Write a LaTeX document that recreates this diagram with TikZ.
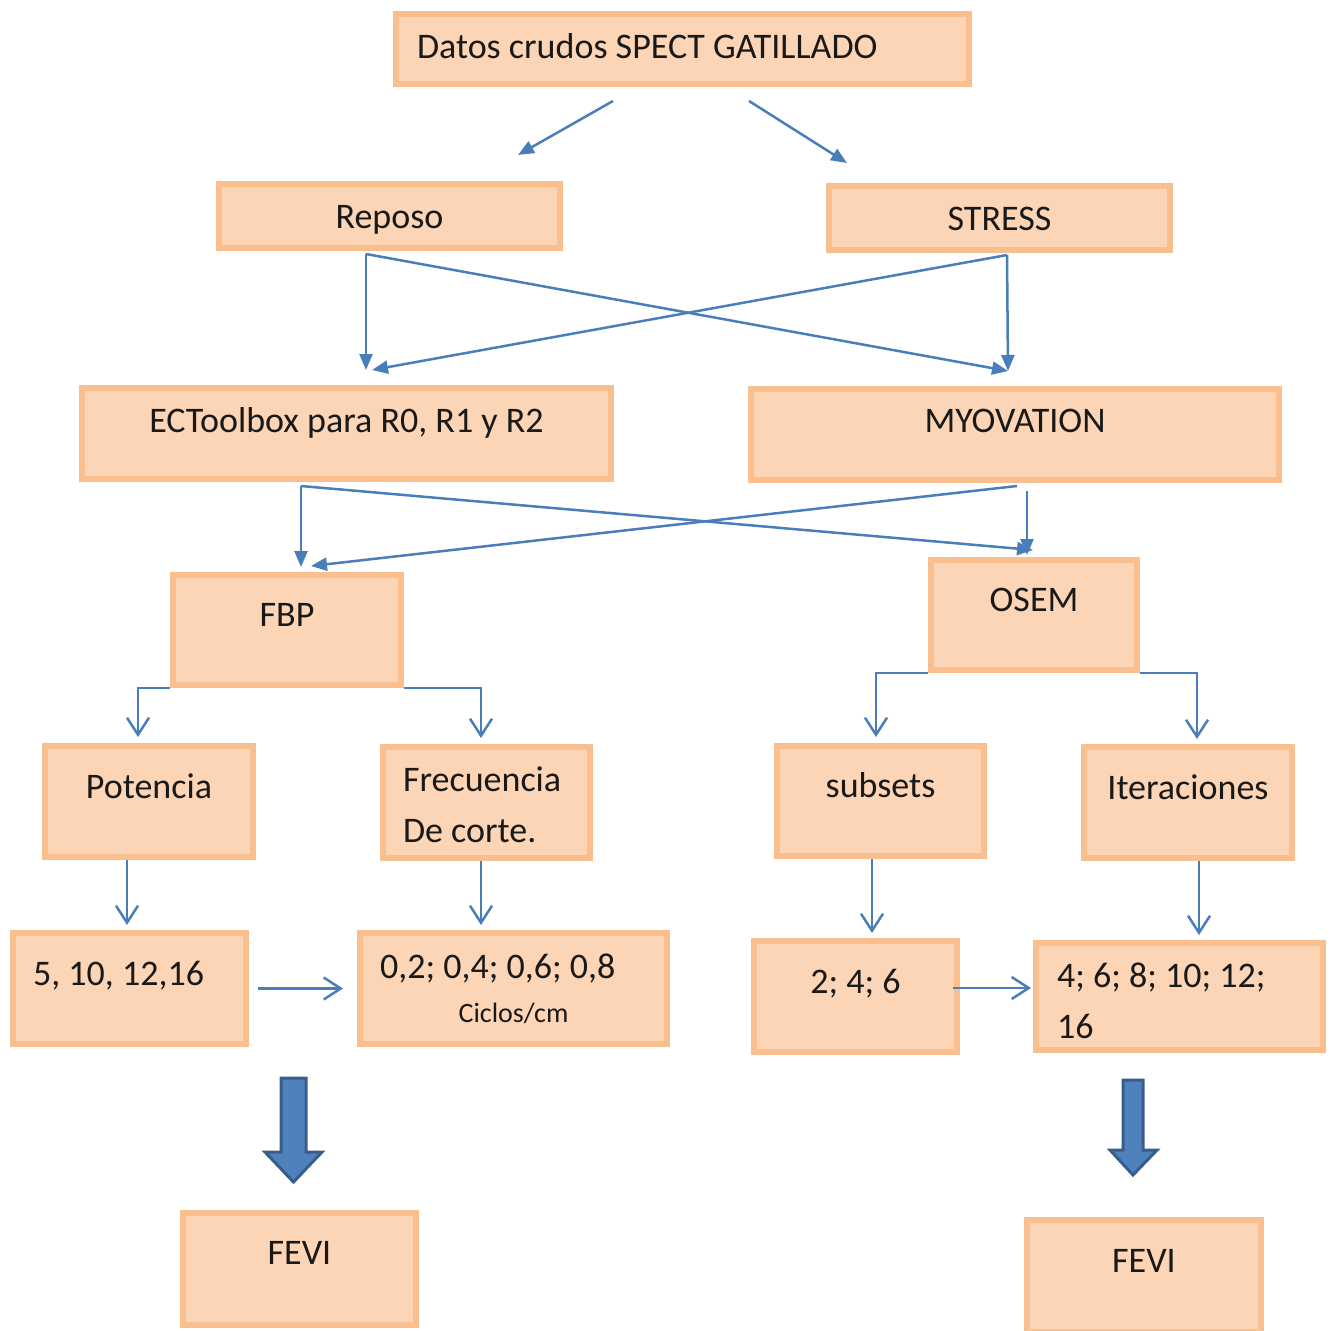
\documentclass[tikz,border=0pt]{standalone}
\usepackage{fontspec}
\setmainfont{Carlito}
\usepackage{tikz}
\usetikzlibrary{arrows.meta}
\definecolor{boxfill}{RGB}{251,213,181}
\definecolor{boxline}{RGB}{250,191,143}
\definecolor{linkblue}{RGB}{74,126,187}
\definecolor{fatfill}{RGB}{79,129,189}
\definecolor{fatline}{RGB}{56,93,138}

\begin{document}
\begin{tikzpicture}[x=1pt,y=-1pt,
    box/.style={draw=boxline, fill=boxfill, line width=6pt, inner sep=0pt, align=flush center, text=black!90, font=\fontsize{36}{51}\selectfont},
    leftbox/.style={box, align=flush left, inner xsep=20pt},
    link/.style={draw=linkblue, line width=2.5pt, -{Triangle[length=16pt,width=13pt]}},
    openlink/.style={draw=linkblue, line width=2.5pt, -{Straight Barb[length=17pt,width=22pt]}},
    fat/.style={draw=fatline, fill=fatfill, line width=3pt, line join=miter}]
    \useasboundingbox (0,0) rectangle (1335,1330);

    % boxes
    \node [leftbox, text width=531pt, inner xsep=21pt, text height=44.5pt, text depth=25.5pt] (datos) at (682.5,49) {Datos crudos SPECT GATILLADO};
    \node [box, text width=341pt, text height=44.5pt, text depth=19.5pt] (reposo) at (389.5,216) {Reposo};
    \node [box, text width=341pt, text height=44.5pt, text depth=19.5pt] (stress) at (999.5,218) {STRESS};
    \node [box, text width=529pt, text height=44.5pt, text depth=46.5pt] (ectool) at (346.5,433.5) {ECToolbox para R0, R1 y R2};
    \node [box, text width=528pt, text height=43.5pt, text depth=47.5pt] (myov) at (1015,434.5) {MYOVATION};
    \node [box, text width=228pt, text height=51.5pt, text depth=58.5pt] (fbp) at (287,630) {FBP};
    \node [box, text width=206pt, text height=51.5pt, text depth=58.5pt] (osem) at (1034,615) {OSEM};
    \node [box, text width=208pt, text height=52.5pt, text depth=58.5pt] (potencia) at (149,801.5) {Potencia};
    \node [leftbox, text width=167pt, text height=44.5pt, text depth=66.5pt] (frec) at (486.5,802.5) {Frecuencia\\De corte.};
    \node [box, text width=207pt, text height=51.5pt, text depth=58.5pt] (subsets) at (880.5,801) {subsets};
    \node [box, text width=208pt, text height=52.5pt, text depth=58.5pt] (iter) at (1188,802.5) {Iteraciones};
    \node [leftbox, text width=193pt, text height=52.5pt, text depth=58.5pt] (pot-val) at (129.5,988.5) {5, 10, 12,16};
    \node [leftbox, text width=267pt, text height=45.5pt, text depth=65.5pt] (frec-val) at (513.5,988.5) {0,2; 0,4; 0,6; 0,8\\[-7.5pt]\makebox[\linewidth]{\fontsize{28}{34}\selectfont Ciclos/cm}};
    \node [box, text width=203pt, text height=52.5pt, text depth=58.5pt] (sub-val) at (855.5,996.5) {2; 4; 6};
    \node [leftbox, text width=245pt, inner xsep=21pt, text height=44.5pt, text depth=62.5pt] (iter-val) at (1179.5,996.5) {4; 6; 8; 10; 12;\\16};
    \node [box, text width=233pt, text height=51.5pt, text depth=60.5pt] (fevi-fbp) at (299.5,1269) {FEVI};
    \node [box, text width=234pt, text height=52.5pt, text depth=59.5pt] (fevi-osem) at (1144,1276) {FEVI};

    % links
    \draw [link] ([xshift=-69.5pt,yshift=-14pt]datos.south) -- ([xshift=128.5pt,yshift=26pt]reposo.north);
    \draw [link] ([xshift=66.5pt,yshift=-14pt]datos.south) -- ([xshift=-152.5pt,yshift=20pt]stress.north);
    \draw [link] ([xshift=-23.5pt,yshift=-3pt]reposo.south) -- ([xshift=19.5pt,yshift=15pt]ectool.north);
    \draw [link] ([xshift=-23.5pt,yshift=-3pt]reposo.south) -- ([xshift=-7pt,yshift=15pt]myov.north);
    \draw [link] ([xshift=7.5pt,yshift=-2pt]stress.south) -- ([xshift=25.5pt,yshift=15pt]ectool.north);
    \draw [link] ([xshift=7.5pt,yshift=-2pt]stress.south) -- ([xshift=-7pt,yshift=15pt]myov.north);
    \draw [link] ([xshift=-45.5pt,yshift=-4pt]ectool.south) -- ([xshift=14pt,yshift=5pt]fbp.north);
    \draw [link] ([xshift=-45.5pt,yshift=-4pt]ectool.south) -- ([xshift=-1pt,yshift=7pt]osem.north);
    \draw [link] ([xshift=2pt,yshift=-3pt]myov.south) -- ([xshift=24pt,yshift=6pt]fbp.north);
    \draw [link] ([xshift=12pt,yshift=-8pt]myov.south) -- ([xshift=-7pt,yshift=2pt]osem.north);

    \draw [openlink] (fbp.south west) -| ([xshift=-11pt,yshift=6pt]potencia.north);
    \draw [openlink] (fbp.south east) -| ([xshift=-5.5pt,yshift=6pt]frec.north);
    \draw [openlink] (osem.south west) -| ([xshift=-4.5pt,yshift=6pt]subsets.north);
    \draw [openlink] (osem.south east) -| ([xshift=9pt,yshift=5pt]iter.north);
    \draw [openlink] ([xshift=-22pt]potencia.south) -- ([xshift=-2.5pt,yshift=5pt]pot-val.north);
    \draw [openlink] ([xshift=-5.5pt]frec.south) -- ([xshift=-32.5pt,yshift=5pt]frec-val.north);
    \draw [openlink] ([xshift=-8.5pt]subsets.south) -- ([xshift=16.5pt,yshift=5pt]sub-val.north);
    \draw [openlink] ([xshift=11pt]iter.south) -- ([xshift=19.5pt,yshift=5pt]iter-val.north);
    \draw [openlink] ([xshift=9pt]pot-val.east) -- ([xshift=-14pt]frec-val.west);
    \draw [openlink] ([xshift=-7pt,yshift=8.5pt]sub-val.east) -- ([xshift=-2pt,yshift=8.5pt]iter-val.west);

    % big arrows
    \draw [fat] (281,1078) -- (306,1078) -- (306,1152) -- (322,1152) -- (293.5,1182) -- (265,1152) -- (281,1152) -- cycle;
    \draw [fat] (1123,1080) -- (1143,1080) -- (1143,1150) -- (1157,1150) -- (1133,1175) -- (1110,1150) -- (1123,1150) -- cycle;
\end{tikzpicture}
\end{document}
